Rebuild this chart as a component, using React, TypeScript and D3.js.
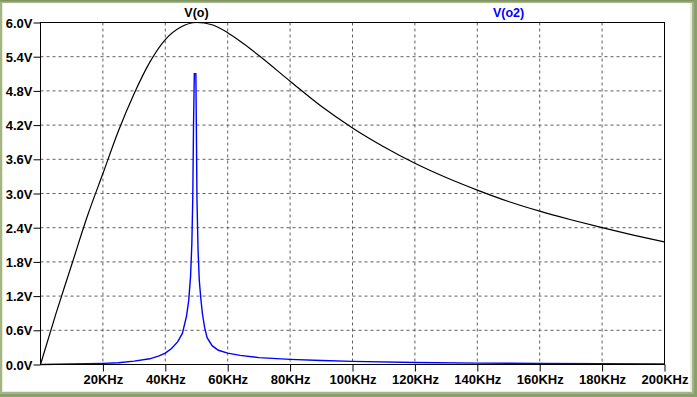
import React, { useEffect, useRef } from 'react';
import * as d3 from 'd3';

// frequency in KHz, voltage in V
const freqO = [0, 5, 10, 15, 20, 25, 30, 35, 40, 45, 50, 55, 60, 65, 70, 80, 90, 100, 110, 120, 130, 140, 150, 160, 170, 180, 190, 200];
const voltO = [0, 0.9, 1.75, 2.6, 3.35, 4.1, 4.75, 5.3, 5.7, 5.92, 6.0, 5.96, 5.82, 5.63, 5.42, 4.97, 4.53, 4.15, 3.82, 3.53, 3.28, 3.06, 2.86, 2.69, 2.54, 2.4, 2.27, 2.15];

const freqO2 = [0, 10, 20, 25, 30, 35, 38, 40, 42, 44, 45.5, 46.8, 47.5, 48.1, 48.5, 48.8, 49.05, 49.3, 49.8, 49.95, 50.15, 50.5, 50.9, 51.4, 51.9, 52.6, 53.4, 55, 57, 60, 64, 70, 80, 90, 100, 120, 140, 160, 180, 200];
const voltO2 = [0, 0.01, 0.02, 0.03, 0.06, 0.1, 0.15, 0.2, 0.28, 0.4, 0.55, 0.85, 1.12, 1.55, 2.1, 2.9, 4.2, 5.1, 5.1, 4.2, 2.9, 2.0, 1.47, 1.15, 0.89, 0.65, 0.47, 0.33, 0.25, 0.2, 0.16, 0.12, 0.09, 0.07, 0.055, 0.035, 0.025, 0.02, 0.012, 0.01];

const yTicks = [0, 0.6, 1.2, 1.8, 2.4, 3.0, 3.6, 4.2, 4.8, 5.4, 6.0];
const yTickLabels = ['0.0V', '0.6V', '1.2V', '1.8V', '2.4V', '3.0V', '3.6V', '4.2V', '4.8V', '5.4V', '6.0V'];
const xTicks = [20, 40, 60, 80, 100, 120, 140, 160, 180, 200];
const xTickLabels = ['20KHz', '40KHz', '60KHz', '80KHz', '100KHz', '120KHz', '140KHz', '160KHz', '180KHz', '200KHz'];

const W = 697;
const H = 397;
const FONT = '"Liberation Sans", Arial, sans-serif';

const App = () => {
  const chartRef = useRef<HTMLDivElement>(null);

  useEffect(() => {
    d3.select(chartRef.current).selectAll('*').remove();

    const svg = d3
      .select(chartRef.current)
      .append('svg')
      .attr('width', W)
      .attr('height', H)
      .style('display', 'block');

    // window frame
    svg.append('rect').attr('width', W).attr('height', H).attr('fill', '#a3b584');
    svg.append('rect').attr('x', 0).attr('y', 0).attr('width', W).attr('height', 1.5).attr('fill', '#7f9662');
    svg.append('rect').attr('x', 694).attr('y', 0).attr('width', 3).attr('height', H).attr('fill', '#8aa06c');
    svg.append('rect').attr('x', 0).attr('y', 394).attr('width', W).attr('height', 3).attr('fill', '#8aa06c');
    svg.append('rect').attr('x', 2).attr('y', 3).attr('width', 690).attr('height', 389).attr('fill', '#e8ecd8');
    svg.append('rect').attr('x', 3).attr('y', 3).attr('width', 687).attr('height', 388).attr('fill', '#ffffff');

    const x = d3.scaleLinear().domain([0, 200]).range([40.5, 664.5]);
    const y = d3.scaleLinear().domain([0, 6]).range([364.5, 22.5]);

    // grid
    svg
      .selectAll('.vgrid')
      .data(xTicks.slice(0, -1))
      .enter()
      .append('line')
      .attr('x1', (d) => x(d))
      .attr('x2', (d) => x(d))
      .attr('y1', y(6))
      .attr('y2', y(0))
      .attr('stroke', '#606060')
      .attr('stroke-dasharray', '3,3');

    svg
      .selectAll('.hgrid')
      .data(yTicks.slice(1, -1))
      .enter()
      .append('line')
      .attr('x1', x(0))
      .attr('x2', x(200))
      .attr('y1', (d) => y(d))
      .attr('y2', (d) => y(d))
      .attr('stroke', '#606060')
      .attr('stroke-dasharray', '3,3');

    // curves
    const lineO = d3
      .line<[number, number]>()
      .x((d) => x(d[0]))
      .y((d) => y(d[1]))
      .curve(d3.curveMonotoneX);

    const lineO2 = d3
      .line<[number, number]>()
      .x((d) => x(d[0]))
      .y((d) => y(d[1]));

    svg
      .append('path')
      .attr('d', lineO(freqO.map((f, i) => [f, voltO[i]] as [number, number])))
      .attr('fill', 'none')
      .attr('stroke', '#000000')
      .attr('stroke-width', 1.2);

    svg
      .append('path')
      .attr('d', lineO2(freqO2.map((f, i) => [f, voltO2[i]] as [number, number])))
      .attr('fill', 'none')
      .attr('stroke', '#0000ff')
      .attr('stroke-width', 1.4);

    // plot frame
    svg
      .append('rect')
      .attr('x', x(0))
      .attr('y', y(6))
      .attr('width', x(200) - x(0))
      .attr('height', y(0) - y(6))
      .attr('fill', 'none')
      .attr('stroke', '#000000')
      .attr('stroke-width', 1);

    // y axis
    const yAxis = d3
      .axisLeft(y)
      .tickValues(yTicks)
      .tickSize(7)
      .tickPadding(1)
      .tickFormat((d, i) => yTickLabels[i]);
    const gy = svg.append('g').attr('transform', `translate(${x(0)},0)`).call(yAxis);
    gy.select('.domain').remove();
    gy.selectAll('line').attr('stroke', '#000');
    gy.selectAll('text')
      .attr('fill', '#000')
      .attr('dy', '0.35em')
      .style('font-family', FONT)
      .style('font-weight', 'bold')
      .style('font-size', '13px');

    // x axis
    const xAxis = d3
      .axisBottom(x)
      .tickValues(xTicks)
      .tickSize(7)
      .tickPadding(3)
      .tickFormat((d, i) => xTickLabels[i]);
    const gx = svg.append('g').attr('transform', `translate(0,${y(0)})`).call(xAxis);
    gx.select('.domain').remove();
    gx.selectAll('line').attr('stroke', '#000');
    gx.selectAll('text')
      .attr('fill', '#000')
      .style('font-family', FONT)
      .style('font-weight', 'bold')
      .style('font-size', '13px');

    // trace labels
    svg
      .append('text')
      .attr('x', x(50))
      .attr('y', 17)
      .attr('text-anchor', 'middle')
      .attr('fill', '#000')
      .style('font-family', FONT)
      .style('font-weight', 'bold')
      .style('font-size', '12.5px')
      .text('V(o)');

    svg
      .append('text')
      .attr('x', x(150))
      .attr('y', 17)
      .attr('text-anchor', 'middle')
      .attr('fill', '#0000ff')
      .style('font-family', FONT)
      .style('font-weight', 'bold')
      .style('font-size', '12.5px')
      .text('V(o2)');
  }, []);

  return (
    <div
      ref={chartRef}
      style={{ position: 'absolute', left: 0, top: 0, width: W, height: H }}
    ></div>
  );
};

export default App;
